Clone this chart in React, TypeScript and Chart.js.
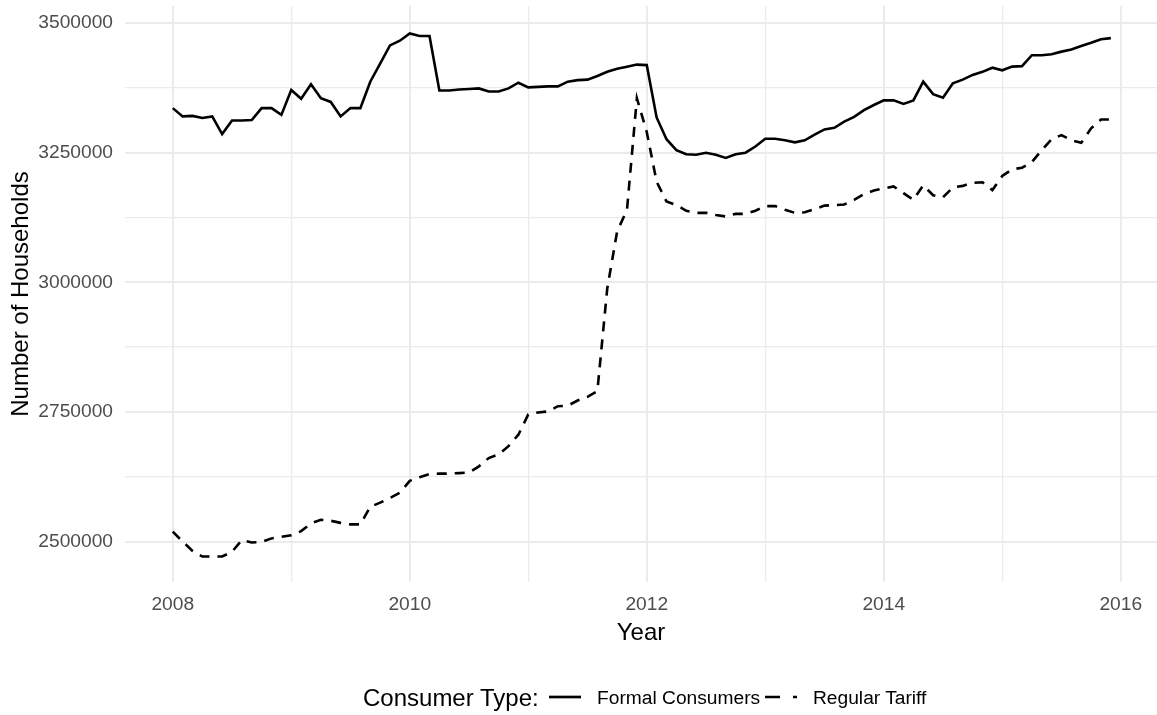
import React, { useEffect, useRef } from 'react';
import { Chart, registerables } from 'chart.js';

Chart.register(...registerables);

// Monthly observations, January 2008 .. December 2015
const START_YEAR = 2008;

const formalConsumers = [
  // 2008
  3336000, 3320000, 3321000, 3317000, 3320000, 3286000, 3312000, 3312000, 3313000, 3336000, 3336000, 3323000,
  // 2009
  3371000, 3354000, 3382000, 3355000, 3348000, 3320000, 3336000, 3336000, 3387000, 3422000, 3457000, 3466000,
  // 2010
  3480000, 3475000, 3475000, 3370000, 3370000, 3372000, 3373000, 3374000, 3368000, 3368000, 3374000, 3385000,
  // 2011
  3376000, 3377000, 3378000, 3378000, 3387000, 3390000, 3391000, 3398000, 3406000, 3412000, 3416000, 3420000,
  // 2012
  3419000, 3318000, 3276000, 3255000, 3247000, 3246000, 3250000, 3246000, 3240000, 3247000, 3250000, 3262000,
  // 2013
  3277000, 3277000, 3274000, 3270000, 3274000, 3285000, 3295000, 3298000, 3310000, 3319000, 3332000, 3342000,
  // 2014
  3351000, 3351000, 3344000, 3351000, 3387000, 3363000, 3356000, 3384000, 3391000, 3400000, 3406000, 3414000,
  // 2015
  3409000, 3416000, 3417000, 3438000, 3438000, 3440000, 3445000, 3449000, 3456000, 3462000, 3469000, 3471000,
];

const regularTariff = [
  // 2008
  2519000, 2500000, 2482000, 2471000, 2471000, 2471000, 2480000, 2503000, 2498000, 2499000, 2506000, 2509000,
  // 2009
  2512000, 2520000, 2535000, 2542000, 2540000, 2536000, 2533000, 2533000, 2567000, 2575000, 2584000, 2594000,
  // 2010
  2617000, 2624000, 2630000, 2631000, 2631000, 2632000, 2633000, 2645000, 2661000, 2668000, 2684000, 2706000,
  // 2011
  2745000, 2749000, 2751000, 2761000, 2762000, 2772000, 2779000, 2790000, 2988000, 3098000, 3140000, 3355000,
  // 2012
  3290000, 3194000, 3156000, 3149000, 3138000, 3134000, 3134000, 3130000, 3127000, 3132000, 3132000, 3138000,
  // 2013
  3147000, 3147000, 3140000, 3134000, 3135000, 3141000, 3148000, 3149000, 3150000, 3159000, 3170000, 3177000,
  // 2014
  3181000, 3185000, 3172000, 3159000, 3187000, 3168000, 3164000, 3183000, 3186000, 3192000, 3193000, 3178000,
  // 2015
  3205000, 3218000, 3221000, 3232000, 3255000, 3276000, 3284000, 3274000, 3269000, 3297000, 3314000, 3314000,
];

const yGridValues = [2500000, 2625000, 2750000, 2875000, 3000000, 3125000, 3250000, 3375000, 3500000];
const yLabelValues = [2500000, 2750000, 3000000, 3250000, 3500000];
const xGridValues = [2008, 2009, 2010, 2011, 2012, 2013, 2014, 2015, 2016];
const xLabelValues = [2008, 2010, 2012, 2014, 2016];

const seriesNames = ['Formal Consumers', 'Regular Tariff'];

const FONT = '"Liberation Sans", Arial, Helvetica, sans-serif';

export default function App() {
  const ref = useRef<HTMLCanvasElement>(null);

  useEffect(() => {
    const toPoints = (arr: number[]) => arr.map((y, i) => ({ x: START_YEAR + i / 12, y }));
    const chart = new Chart(ref.current as HTMLCanvasElement, {
      type: 'line',
      data: {
        datasets: [
          {
            label: seriesNames[0],
            data: toPoints(formalConsumers),
            borderColor: '#000000',
            borderWidth: 2.6,
            pointRadius: 0,
            tension: 0,
            fill: false,
          },
          {
            label: seriesNames[1],
            data: toPoints(regularTariff),
            borderColor: '#000000',
            borderWidth: 2.6,
            borderDash: [10, 8],
            pointRadius: 0,
            tension: 0,
            fill: false,
          },
        ],
      },
      options: {
        animation: false,
        responsive: false,
        maintainAspectRatio: false,
        layout: { padding: { left: 0, right: 0, top: 6, bottom: 0 } },
        plugins: { legend: { display: false }, tooltip: { enabled: false } },
        scales: {
          x: {
            type: 'linear',
            min: 2007.597,
            max: 2016.306,
            afterBuildTicks: (s: any) => {
              s.ticks = xGridValues.map((v) => ({ value: v }));
            },
            afterFit: (s: any) => {
              s.height = 133;
              s.paddingLeft = 0;
              s.paddingRight = 0;
            },
            ticks: {
              autoSkip: false,
              maxRotation: 0,
              minRotation: 0,
              padding: 11,
              color: '#4D4D4D',
              font: { family: FONT, size: 19.2 },
              callback: (v: any) => (xLabelValues.includes(Number(v)) ? String(v) : ''),
            },
            grid: {
              color: '#EBEBEB',
              lineWidth: (ctx: any) => (ctx.tick && xLabelValues.includes(ctx.tick.value) ? 2 : 1.3),
              drawTicks: false,
            },
            border: { display: false },
          },
          y: {
            type: 'linear',
            min: 2421900,
            max: 3533000,
            afterBuildTicks: (s: any) => {
              s.ticks = yGridValues.map((v) => ({ value: v }));
            },
            afterFit: (s: any) => {
              s.width = 125;
              s.paddingTop = 0;
              s.paddingBottom = 0;
            },
            ticks: {
              autoSkip: false,
              padding: 12,
              color: '#4D4D4D',
              font: { family: FONT, size: 19.2 },
              callback: (v: any) => (yLabelValues.includes(Number(v)) ? String(v) : ''),
            },
            grid: {
              color: '#EBEBEB',
              lineWidth: (ctx: any) => (ctx.tick && yLabelValues.includes(ctx.tick.value) ? 2 : 1.3),
              drawTicks: false,
            },
            border: { display: false },
          },
        },
      },
    });
    return () => chart.destroy();
  }, []);

  const textBase: React.CSSProperties = {
    position: 'absolute',
    fontFamily: FONT,
    color: '#000000',
    whiteSpace: 'nowrap',
    lineHeight: 1,
    margin: 0,
  };

  return (
    <div style={{ position: 'absolute', left: 0, top: 0, width: 1157, height: 715, background: '#ffffff', overflow: 'hidden' }}>
      <canvas ref={ref} width={1157} height={715} style={{ display: 'block', width: 1157, height: 715 }} />
      {/* Axis titles */}
      <div style={{ ...textBase, fontSize: 24, left: 125, width: 1032, top: 620, textAlign: 'center' }}>Year</div>
      <div
        style={{
          ...textBase,
          fontSize: 24,
          width: 400,
          left: 20 - 200,
          top: 294 - 12,
          textAlign: 'center',
          transform: 'rotate(-90deg)',
          transformOrigin: '50% 50%',
        }}
      >
        Number of Households
      </div>
      {/* Legend */}
      <div style={{ ...textBase, fontSize: 24, left: 363, top: 685.5 }}>Consumer Type:</div>
      <svg style={{ position: 'absolute', left: 548, top: 690 }} width={34} height={14}>
        <line x1={1} y1={7} x2={33} y2={7} stroke="#000" strokeWidth={2.7} />
      </svg>
      <div style={{ ...textBase, fontSize: 19.2, left: 597, top: 687.6 }}>{seriesNames[0]}</div>
      <svg style={{ position: 'absolute', left: 764, top: 690 }} width={34} height={14}>
        <line x1={1} y1={7} x2={33} y2={7} stroke="#000" strokeWidth={2.7} strokeDasharray="15 13" />
      </svg>
      <div style={{ ...textBase, fontSize: 19.2, left: 813, top: 687.6 }}>{seriesNames[1]}</div>
    </div>
  );
}
